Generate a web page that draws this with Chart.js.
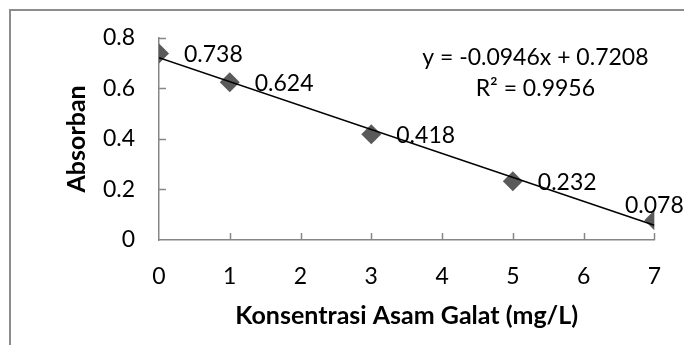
<!DOCTYPE html>
<html lang="id">
<head>
<meta charset="UTF-8">
<title>Kurva Standar Asam Galat</title>
<script src="https://cdn.jsdelivr.net/npm/chart.js@4.4.1/dist/chart.umd.min.js"></script>
<style>
    body { margin: 0; padding: 0; background: #fff; overflow: hidden; }
    #wrap { width: 684px; height: 345px; }
</style>
</head>
<body>
<div id="wrap"><canvas id="chart" width="684" height="345"></canvas></div>
<script>
    // data
    const konsentrasi = [0, 1, 3, 5, 7];
    const absorban = [0.738, 0.624, 0.418, 0.232, 0.078];
    // trendline ends (from the equation shown on the chart)
    const trendX = [0, 7];
    const trendY = [0.7208, 0.0586];
    const equationLines = ['y = -0.0946x + 0.7208', 'R² = 0.9956'];
    const xTitle = 'Konsentrasi Asam Galat (mg/L)';
    const yTitle = 'Absorban';

    const FONT = 'Lato, "Open Sans", sans-serif';
    const AXIS = '#868686';

    // outer frame, inward tick marks, data labels, equation
    const extras = {
        id: 'extras',
        beforeDraw(chart) {
            const c = chart.ctx;
            c.save();
            c.strokeStyle = '#8c8c8c';
            c.lineWidth = 2;
            c.beginPath();
            c.moveTo(10, 345);
            c.lineTo(10, 10);
            c.lineTo(684, 10);
            c.stroke();
            c.restore();
        },
        afterDatasetsDraw(chart) {
            const c = chart.ctx;
            const xs = chart.scales.x, ys = chart.scales.y;
            const area = chart.chartArea;
            c.save();
            c.strokeStyle = AXIS;
            c.lineWidth = 1.5;
            c.beginPath();
            for (let v = 0.2; v <= 0.8001; v += 0.2) {
                const py = Math.round(ys.getPixelForValue(v)) + 0.5;
                c.moveTo(area.left, py);
                c.lineTo(area.left + 7, py);
            }
            for (let v = 1; v <= 7; v++) {
                const px = Math.round(xs.getPixelForValue(v)) + 0.5;
                c.moveTo(px, area.bottom);
                c.lineTo(px, area.bottom - 7);
            }
            c.stroke();

            // data labels
            c.fillStyle = '#000';
            c.font = '23px ' + FONT;
            c.textBaseline = 'middle';
            const meta = chart.getDatasetMeta(1);
            meta.data.forEach((pt, i) => {
                const txt = absorban[i].toFixed(3);
                const w = c.measureText(txt).width;
                if (pt.x + 25 + w > chart.width) {
                    c.textAlign = 'center';
                    c.fillText(txt, pt.x, pt.y - 15);
                } else {
                    c.textAlign = 'left';
                    c.fillText(txt, pt.x + 25, pt.y + 1);
                }
            });

            // equation
            c.textAlign = 'center';
            equationLines.forEach((t, i) => {
                c.fillText(t, area.right - 119, area.top + 20 + i * 31);
            });
            c.restore();
        }
    };

    new Chart(document.getElementById('chart'), {
        type: 'scatter',
        data: {
            datasets: [
                {
                    type: 'line',
                    data: trendX.map((x, i) => ({ x: x, y: trendY[i] })),
                    borderColor: '#000',
                    borderWidth: 1.5,
                    pointRadius: 0,
                    fill: false,
                    order: 0
                },
                {
                    data: konsentrasi.map((x, i) => ({ x: x, y: absorban[i] })),
                    pointStyle: 'rectRot',
                    pointRadius: 10,
                    pointBackgroundColor: '#5a5a5a',
                    pointBorderColor: '#5a5a5a',
                    pointBorderWidth: 0,
                    order: 1
                }
            ]
        },
        options: {
            responsive: false,
            animation: false,
            layout: { padding: { left: 0, right: 27, top: 31, bottom: 0 } },
            plugins: {
                legend: { display: false },
                tooltip: { enabled: false }
            },
            scales: {
                x: {
                    type: 'linear',
                    min: 0,
                    max: 7,
                    afterFit(s) { s.height = 105; },
                    grid: { display: false, drawTicks: false },
                    border: { display: true, color: AXIS, width: 1.5 },
                    ticks: {
                        stepSize: 1,
                        padding: 23,
                        color: '#000',
                        font: { family: FONT, size: 23 }
                    },
                    title: {
                        display: true,
                        text: xTitle,
                        color: '#000',
                        padding: { top: 0, bottom: 14 },
                        font: { family: FONT, size: 25, weight: 'bold' }
                    }
                },
                y: {
                    min: 0,
                    max: 0.8,
                    afterFit(s) { s.width = 159; },
                    grid: { display: false, drawTicks: false },
                    border: { display: true, color: AXIS, width: 1.5 },
                    ticks: {
                        stepSize: 0.2,
                        padding: 24,
                        color: '#000',
                        font: { family: FONT, size: 23 }
                    },
                    title: {
                        display: true,
                        text: yTitle,
                        color: '#000',
                        padding: { top: 62, bottom: 0 },
                        font: { family: FONT, size: 25, weight: 'bold' }
                    }
                }
            }
        },
        plugins: [extras]
    });
</script>
</body>
</html>
